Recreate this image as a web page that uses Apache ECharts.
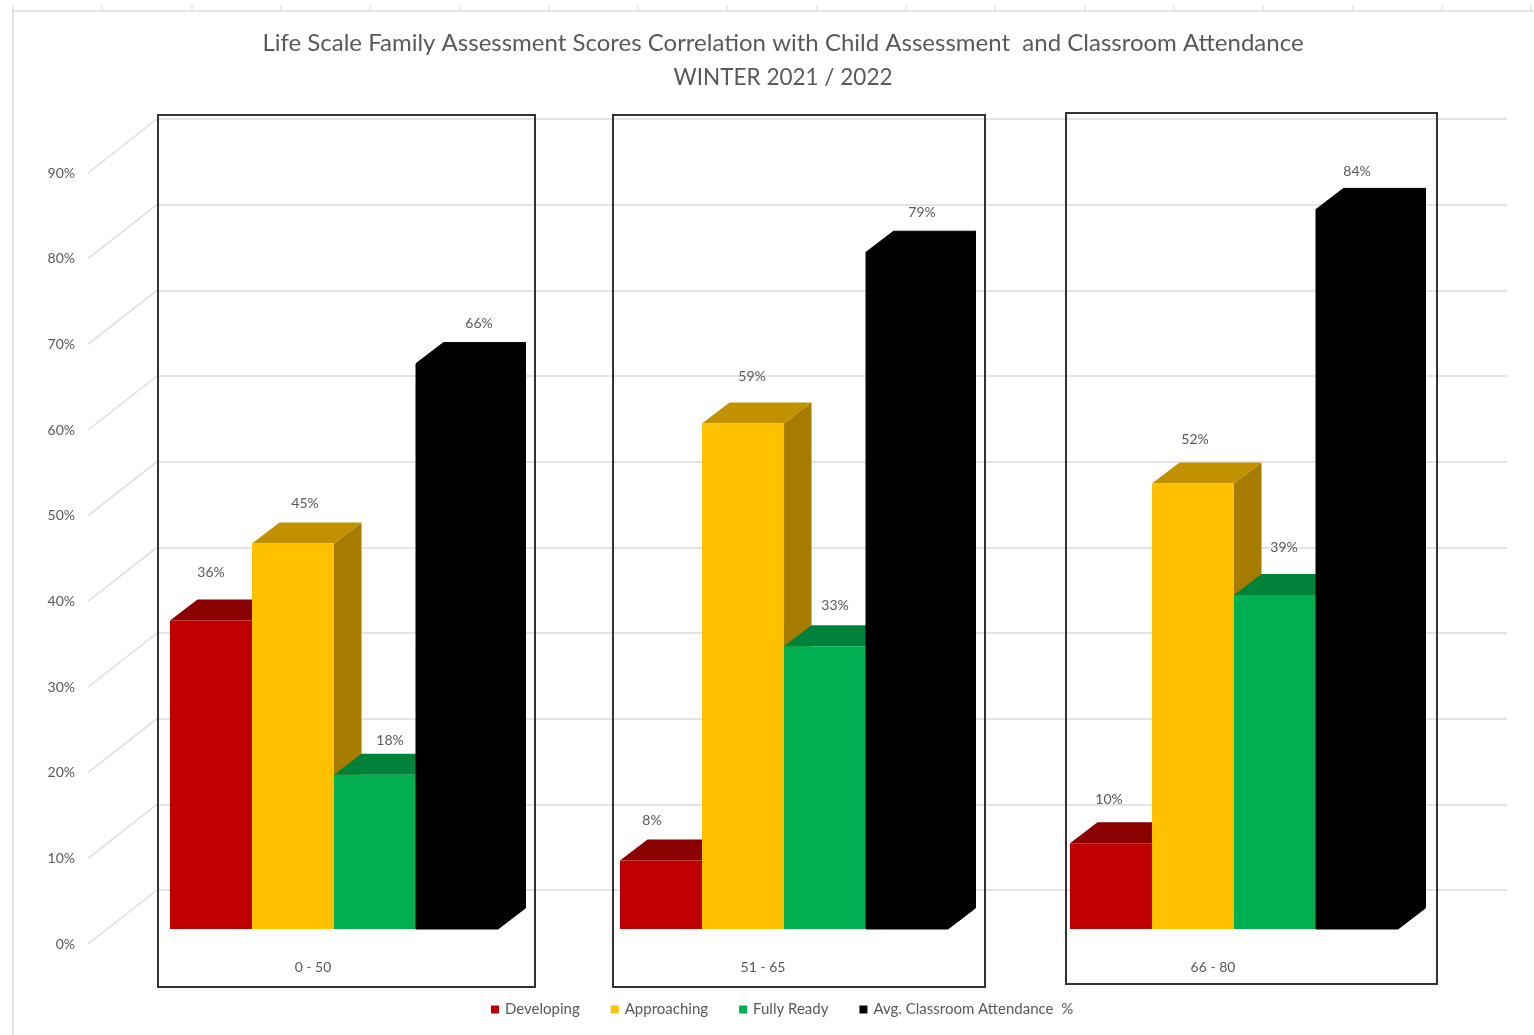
<!DOCTYPE html>
<html>
<head>
<meta charset="utf-8">
<style>html,body{margin:0;padding:0;background:#fff}#chart{width:1534px;height:1035px}</style>
<script src="https://cdn.jsdelivr.net/npm/echarts@6/dist/echarts.min.js"></script>
</head>
<body>
<div id="chart"></div>
<script>
// Score bands and percentages per group
const categories = ['0 - 50', '51 - 65', '66 - 80'];
const developing = [36, 8, 10];
const approaching = [45, 59, 52];
const fullyReady = [18, 33, 39];
const attendance = [66, 79, 84];
const ticks = [0, 10, 20, 30, 40, 50, 60, 70, 80, 90];
const titleText = 'Life Scale Family Assessment Scores Correlation with Child Assessment  and Classroom Attendance';
const subtitleText = 'WINTER 2021 / 2022';

// Hand-placed value labels: [dx from bar centre, dy above front top edge]
const developingLabelShift = [[0, 48], [-9, 40], [-2, 44]];
const approachingLabelShift = [[12, 40], [9, 47], [2, 44]];
const fullyReadyLabelShift = [[15, 34], [10, 41], [9, 47]];
const attendanceLabelShift = [[22, 40], [15, 40], [0, 38]];

const FONT = 'Lato, "Open Sans", sans-serif';
const TEXT = '#595959';
const BAR_W = 82, DEPTH_X = 27.5, DEPTH_Y = 21;
const WALL_X = 69, WALL_Y = 54;

// One extruded bar: side, top and front faces plus its value label
function barRenderer(slot, colors, shifts) {
  return function (params, api) {
    const i = api.value(0);
    const v = api.value(1);
    const top = api.coord([i, v]);
    const base = api.coord([i, 0]);
    const x0 = top[0] - 2 * BAR_W + slot * BAR_W;
    const x1 = x0 + BAR_W;
    const poly = (points, fill, seam) => ({
      type: 'polygon', shape: { points }, silent: true,
      style: { fill, stroke: seam ? fill : null, lineWidth: seam ? 1 : 0 }
    });
    const solid = colors.top === colors.face;
    return {
      type: 'group',
      children: [
        poly([[x1, top[1]], [x1 + DEPTH_X, top[1] - DEPTH_Y], [x1 + DEPTH_X, base[1] - DEPTH_Y], [x1, base[1]]], colors.side, solid),
        poly([[x0, top[1]], [x0 + DEPTH_X, top[1] - DEPTH_Y], [x1 + DEPTH_X, top[1] - DEPTH_Y], [x1, top[1]]], colors.top, solid),
        poly([[x0, top[1]], [x1, top[1]], [x1, base[1]], [x0, base[1]]], colors.face, solid),
        {
          type: 'text',
          silent: true,
          style: {
            x: (x0 + x1) / 2 + shifts[i][0],
            y: top[1] - shifts[i][1],
            text: v + '%',
            fill: TEXT,
            font: '14px ' + FONT,
            align: 'center',
            verticalAlign: 'middle'
          }
        }
      ]
    };
  };
}

function barSeries(name, values, slot, colors, shifts) {
  return {
    name,
    type: 'custom',
    xAxisIndex: 2,
    yAxisIndex: 2,
    itemStyle: { color: colors.face },
    encode: { x: 0, y: 1 },
    data: values.map((v, i) => [i, v]),
    renderItem: barRenderer(slot, colors, shifts)
  };
}

// Receding floor-to-wall strokes, one per tick, on the front plane
const wallStrokes = {
  type: 'custom',
  silent: true,
  xAxisIndex: 1,
  yAxisIndex: 1,
  encode: { y: 1 },
  data: ticks.map(t => [0, t]),
  renderItem(params, api) {
    const p = api.coord([0, api.value(1)]);
    const x = params.coordSys.x;
    return {
      type: 'line',
      shape: { x1: x, y1: p[1], x2: x + WALL_X, y2: p[1] - WALL_Y },
      style: { stroke: '#dedede', lineWidth: 1.5 }
    };
  }
};

const plainAxis = (gridIndex, extra) => Object.assign({
  type: 'category', gridIndex, data: categories, show: false
}, extra);
const valueAxis = (gridIndex, extra) => Object.assign({
  type: 'value', gridIndex, min: 0, max: 90, interval: 10,
  axisLine: { show: false }, axisTick: { show: false },
  axisLabel: { show: false }, splitLine: { show: false }
}, extra);

// Sheet furniture behind the chart: column ruler and left edge
const ruler = [{ type: 'line', shape: { x1: 12, y1: 11, x2: 1534, y2: 11 }, style: { stroke: '#e4e6ee', lineWidth: 2 } },
  { type: 'line', shape: { x1: 13, y1: 11, x2: 13, y2: 1035 }, style: { stroke: '#e2e2e6', lineWidth: 2 } }];
for (let k = 0; k <= 17; k++) {
  const x = Math.round(13 + k * 89.3);
  ruler.push({ type: 'line', shape: { x1: x, y1: 5, x2: x, y2: 11 }, style: { stroke: '#dfe2ec', lineWidth: 1.5 } });
}
const frame = (x, y, w, h) => ({
  type: 'rect', z: 100, shape: { x, y, width: w, height: h },
  style: { fill: 'none', stroke: '#333333', lineWidth: 2 }
});

const option = {
  backgroundColor: '#ffffff',
  animation: false,
  title: {
    text: titleText,
    subtext: subtitleText,
    left: 778,
    top: 26,
    textAlign: 'center',
    itemGap: 11,
    textStyle: { fontFamily: FONT, fontWeight: 'normal', fontSize: 24, color: TEXT },
    subtextStyle: { fontFamily: FONT, fontSize: 22.5, color: TEXT }
  },
  legend: {
    left: 486,
    top: 997,
    itemWidth: 8,
    itemHeight: 8,
    itemGap: 31,
    icon: 'rect',
    data: ['Developing', 'Approaching', 'Fully Ready', 'Avg. Classroom Attendance  %'],
    textStyle: { fontFamily: FONT, fontSize: 15, color: TEXT, padding: [0, 0, 0, 1] }
  },
  grid: [
    { left: 157, top: 119, width: 1350, height: 771 },
    { left: 88, top: 173, width: 1350, height: 771 },
    { left: 109, top: 158, width: 1350, height: 771 }
  ],
  xAxis: [
    plainAxis(0),
    plainAxis(1, {
      show: true,
      axisLine: { show: false }, axisTick: { show: false },
      axisLabel: { margin: 16, fontFamily: FONT, fontSize: 14, color: TEXT }
    }),
    plainAxis(2)
  ],
  yAxis: [
    valueAxis(0, { splitLine: { show: true, lineStyle: { color: '#e4e4e4', width: 2 } } }),
    valueAxis(1, {
      axisLabel: { show: true, margin: 13, padding: [4, 0, 0, 0], formatter: '{value}%', fontFamily: FONT, fontSize: 14, color: TEXT }
    }),
    valueAxis(2)
  ],
  graphic: { elements: ruler.concat([
    frame(158, 115, 377, 872),
    frame(613, 115, 372, 872),
    frame(1066, 113, 371, 871)
  ]) },
  series: [
    wallStrokes,
    barSeries('Developing', developing, 0, { face: '#C00000', top: '#8B0000', side: '#8B0000' }, developingLabelShift),
    barSeries('Approaching', approaching, 1, { face: '#FFC000', top: '#C29100', side: '#A67C00' }, approachingLabelShift),
    barSeries('Fully Ready', fullyReady, 2, { face: '#00B050', top: '#00823B', side: '#006F33' }, fullyReadyLabelShift),
    barSeries('Avg. Classroom Attendance  %', attendance, 3, { face: '#000000', top: '#000000', side: '#000000' }, attendanceLabelShift)
  ]
};

echarts.init(document.getElementById('chart'), null, { renderer: 'canvas' }).setOption(option);
</script>
</body>
</html>
